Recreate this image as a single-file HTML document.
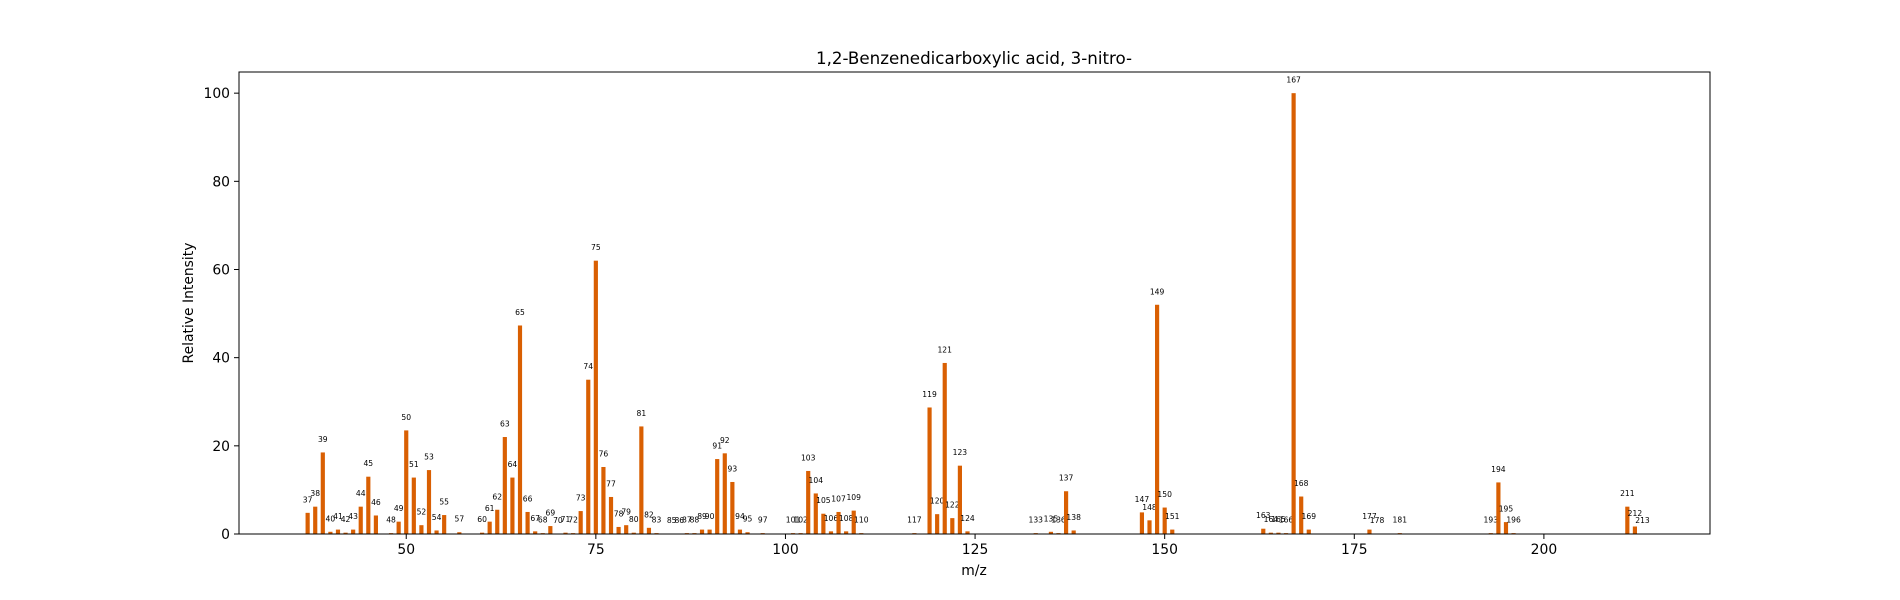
<!DOCTYPE html>
<html><head><meta charset="utf-8"><style>
html,body{margin:0;padding:0;background:#fff;overflow:hidden;width:100%;height:100%;}
svg{font-family:"DejaVu Sans","Liberation Sans",sans-serif;display:block;position:absolute;left:0;top:0;width:100vw;height:100vh;}
</style></head><body>
<svg id="chart" viewBox="0 0 1900 600" preserveAspectRatio="none" xmlns="http://www.w3.org/2000/svg">
<rect width="1900" height="600" fill="#fff"/>
<text x="974" y="64" font-size="16.7" text-anchor="middle" fill="#000">1,2-Benzenedicarboxylic acid, 3-nitro-</text>
<g id="bars"></g>
<g id="xticks"></g>
<g id="yticks"></g>
<rect x="239" y="72" width="1471" height="462" fill="none" stroke="#000" stroke-width="1"/>
<text x="974" y="575" font-size="13.9" text-anchor="middle">m/z</text>
<text x="193" y="303" font-size="13.9" text-anchor="middle" transform="rotate(-90 193 303)">Relative Intensity</text>
</svg>
<script>
const mzValues=[37,38,39,40,41,42,43,44,45,46,48,49,50,51,52,53,54,55,57,60,61,62,63,64,65,66,67,68,69,70,71,72,73,74,75,76,77,78,79,80,81,82,83,85,86,87,88,89,90,91,92,93,94,95,97,101,102,103,104,105,106,107,108,109,110,117,119,120,121,122,123,124,133,135,136,137,138,147,148,149,150,151,163,164,165,166,167,168,169,177,178,181,193,194,195,196,211,212,213];
const intensities=[4.8,6.2,18.5,0.5,1,0.3,1,6.2,13,4.2,0.2,2.8,23.5,12.8,2,14.5,0.8,4.3,0.4,0.3,2.8,5.5,22,12.8,47.3,5,0.6,0.2,1.8,0.1,0.3,0.2,5.2,35,62,15.2,8.4,1.6,2,0.3,24.4,1.4,0.2,0.1,0.1,0.2,0.2,1,1,17,18.3,11.8,1,0.4,0.2,0.2,0.2,14.3,9.2,4.6,0.6,5,0.6,5.3,0.2,0.2,28.7,4.5,38.8,3.6,15.5,0.6,0.2,0.5,0.2,9.7,0.8,4.9,3.1,52,6,1,1.2,0.3,0.3,0.2,100,8.5,1,1,0.1,0.2,0.2,11.7,2.7,0.2,6.2,1.7,0.1];
const xTickValues=[50,75,100,125,150,175,200];
const yTickValues=[0,20,40,60,80,100];
const NS="http://www.w3.org/2000/svg";
const X0=239,X1=1710,Y0=534,Y1=72,xMin=27.95,xMax=221.9,yMax=104.8;
const xs=v=>X0+(v-xMin)/(xMax-xMin)*(X1-X0);
const ys=v=>Y0-v/yMax*(Y0-Y1);
const bars=document.getElementById('bars');
const bw=0.55*(X1-X0)/(xMax-xMin);
mzValues.forEach((m,i)=>{
  const v=intensities[i];
  const r=document.createElementNS(NS,'rect');
  r.setAttribute('x',xs(m)-bw/2);r.setAttribute('y',ys(v));
  r.setAttribute('width',bw);r.setAttribute('height',Y0-ys(v));
  r.setAttribute('fill','#d95f02');
  
  
  bars.appendChild(r);
  const t=document.createElementNS(NS,'text');
  t.setAttribute('x',xs(m));t.setAttribute('y',ys(v)-10.5);
  t.setAttribute('font-size','7.6');t.setAttribute('text-anchor','middle');t.setAttribute('fill','#000');
  t.textContent=m;
  
  
  bars.appendChild(t);
});
const xg=document.getElementById('xticks');
xTickValues.forEach(v=>{
  const l=document.createElementNS(NS,'line');
  l.setAttribute('x1',xs(v));l.setAttribute('x2',xs(v));l.setAttribute('y1',Y0);l.setAttribute('y2',Y0+5);l.setAttribute('stroke','#000');
  
  
  xg.appendChild(l);
  const t=document.createElementNS(NS,'text');
  t.setAttribute('x',xs(v));t.setAttribute('y',Y0+20);t.setAttribute('font-size','13.9');t.setAttribute('text-anchor','middle');
  t.textContent=v;
  
  
  xg.appendChild(t);
});
const yg=document.getElementById('yticks');
yTickValues.forEach(v=>{
  const l=document.createElementNS(NS,'line');
  l.setAttribute('x1',X0-5);l.setAttribute('x2',X0);l.setAttribute('y1',ys(v));l.setAttribute('y2',ys(v));l.setAttribute('stroke','#000');
  
  
  yg.appendChild(l);
  const t=document.createElementNS(NS,'text');
  t.setAttribute('x',X0-9);t.setAttribute('y',ys(v)+5);t.setAttribute('font-size','13.9');t.setAttribute('text-anchor','end');
  t.textContent=v;
  
  
  yg.appendChild(t);
});
</script>
</body></html>
